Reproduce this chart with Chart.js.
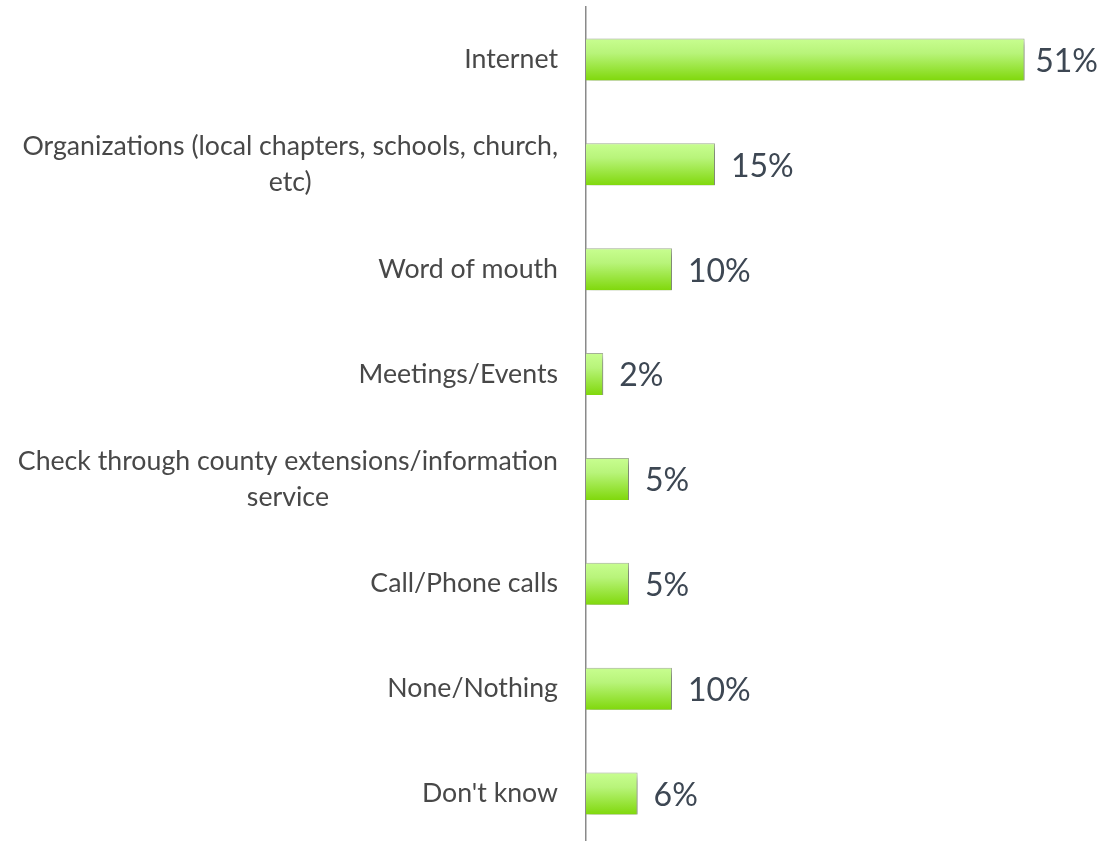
<!DOCTYPE html>
<html>
<head>
<meta charset="utf-8">
<script src="https://cdn.jsdelivr.net/npm/chart.js@4/dist/chart.umd.min.js"></script>
<style>
html,body{margin:0;padding:0;background:#fff;overflow:hidden;}
#wrap{width:1102px;height:846px;}
</style>
</head>
<body>
<div id="wrap"><canvas id="c" width="1102" height="846"></canvas></div>
<script>
const categories = [
  ["Internet"],
  ["Organizations (local chapters, schools, church,", "etc)"],
  ["Word of mouth"],
  ["Meetings/Events"],
  ["Check through county extensions/information", "service"],
  ["Call/Phone calls"],
  ["None/Nothing"],
  ["Don't know"]
];
const values = [51, 15, 10, 2, 5, 5, 10, 6];
const valueLabels = ["51%", "15%", "10%", "2%", "5%", "5%", "10%", "6%"];

const LABEL_FONT = '26.7px Lato';
const VALUE_FONT = '32px Lato';
const BAR_PCT = 0.4;

function barGradient(ctx) {
  const chart = ctx.chart;
  const ys = chart.scales && chart.scales.y;
  if (!ys || ctx.dataIndex == null) return '#a6e84a';
  const c = ys.getPixelForValue(ctx.dataIndex);
  const half = ys.height / categories.length * BAR_PCT / 2;
  if (!isFinite(c) || !isFinite(half) || half <= 0) return '#a6e84a';
  const g = chart.ctx.createLinearGradient(0, c - half, 0, c + half);
  g.addColorStop(0, '#c8fe90');
  g.addColorStop(0.35, '#b8f47a');
  g.addColorStop(1, '#80d80c');
  return g;
}

const shadowPlugin = {
  id: 'shadow',
  beforeDatasetsDraw(chart) {
    const c = chart.ctx;
    c.save();
    c.shadowColor = 'rgba(0,0,0,0.35)';
    c.shadowBlur = 6;
    c.shadowOffsetX = 2;
    c.shadowOffsetY = 4;
  },
  afterDatasetsDraw(chart) {
    chart.ctx.restore();
  }
};

const labelPlugin = {
  id: 'labels',
  afterDraw(chart) {
    const c = chart.ctx;
    const ys = chart.scales.y;
    const left = chart.chartArea.left;
    c.save();
    c.font = LABEL_FONT;
    c.fillStyle = '#484848';
    c.textBaseline = 'middle';
    c.textAlign = 'center';
    const lineH = 36;
    categories.forEach((lines, i) => {
      const cy = ys.getPixelForValue(i);
      const maxW = Math.max(...lines.map(l => c.measureText(l).width));
      const cx = left - 28 - maxW / 2;
      const y0 = cy - (lines.length - 1) * lineH / 2;
      lines.forEach((l, k) => c.fillText(l, cx, y0 + k * lineH));
    });
    c.font = VALUE_FONT;
    c.fillStyle = '#3d4753';
    c.textAlign = 'left';
    const meta = chart.getDatasetMeta(0);
    meta.data.forEach((el, i) => {
      const w = c.measureText(valueLabels[i]).width;
      const x = Math.min(el.x + 16, chart.width - 4 - w);
      c.fillText(valueLabels[i], x, el.y + 2);
    });
    c.restore();
  }
};

new Chart(document.getElementById('c'), {
  type: 'bar',
  data: {
    labels: categories,
    datasets: [{
      data: values,
      backgroundColor: barGradient,
      borderColor: '#a8b59a',
      borderWidth: {top: 1, right: 1, bottom: 0, left: 0},
      borderSkipped: false,
      barPercentage: BAR_PCT,
      categoryPercentage: 1
    }]
  },
  options: {
    indexAxis: 'y',
    responsive: false,
    animation: false,
    devicePixelRatio: 1,
    layout: {padding: {left: 578, top: 7, right: 0, bottom: 0}},
    plugins: {legend: {display: false}, tooltip: {enabled: false}, title: {display: false}},
    scales: {
      x: {display: false, min: 0, max: 60},
      y: {
        grid: {display: false},
        ticks: {display: false},
        border: {display: true, color: '#8a8a8a', width: 1.5}
      }
    }
  },
  plugins: [shadowPlugin, labelPlugin]
});
</script>
</body>
</html>
